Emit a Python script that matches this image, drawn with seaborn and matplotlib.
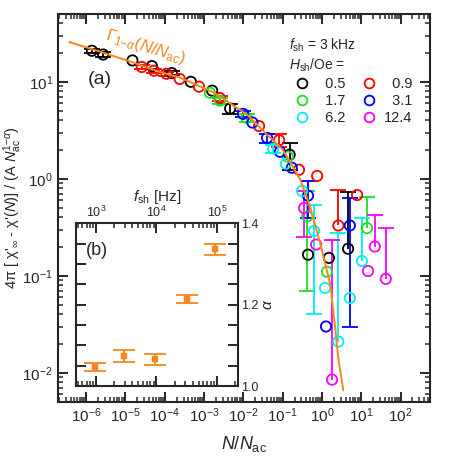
#!/usr/bin/env python3
# Scaling plot of the ac susceptibility vs N/N_ac, with alpha(f_sh) inset

import numpy as np
import pandas as pd
import matplotlib
matplotlib.use('Agg')
import matplotlib.pyplot as plt
import seaborn as sns
from matplotlib.lines import Line2D
from matplotlib.ticker import LogLocator, MultipleLocator, NullFormatter, FormatStrFormatter

# ---- main panel data ----
# H_sh = 0.5 Oe
n_05 = [1.4e-6, 2.7e-6, 1.5e-5, 4.7e-5, 1.5e-4, 4.6e-4, 1.6e-3, 4.6e-3, 0.15, 0.44, 1.5, 4.6]
c_05 = [20.9, 19.1, 16.6, 14.5, 12.3, 10.0, 8.1, 5.3, 1.77, 0.165, 0.153, 0.19]
e_05 = [1.0, 1.0, 0, 0, 0.6, 0, 0, 0.65, 0.55, 0, 0, 0.54]
# H_sh = 0.9 Oe
n_09 = [2.6e-5, 5.3e-5, 1.1e-4, 2.4e-4, 7.4e-4, 2.5e-3, 0.025, 0.081, 0.26, 0.75, 2.6, 7.8]
c_09 = [14.2, 13.0, 12.1, 10.7, 8.9, 6.8, 3.5, 2.5, 1.24, 1.07, 0.33, 0.68]
e_09 = [0.7, 0.6, 0.6, 0, 0, 0.4, 0, 0.37, 0, 0, 0.44, 0]
# H_sh = 1.7 Oe
n_17 = [1.4e-3, 2.5e-3, 0.012, 0.135, 0.42, 1.34, 14.0]
c_17 = [7.7, 6.4, 4.25, 1.69, 0.41, 0.11, 0.31]
e_17 = [0, 0.45, 0.4, 0, 0.34, 0, 0.34]
# H_sh = 3.1 Oe
n_31 = [9.8e-3, 0.017, 0.040, 0.085, 0.17, 0.44, 1.26, 5.1]
c_31 = [4.67, 3.8, 2.64, 1.90, 1.30, 0.67, 0.030, 0.33]
e_31 = [0.35, 0, 0.28, 0, 0, 0.28, 0, 0.30]
# H_sh = 6.2 Oe
n_62 = [0.057, 0.12, 0.31, 0.63, 1.19, 2.6, 5.1, 10.4]
c_62 = [2.04, 1.43, 0.75, 0.29, 0.075, 0.021, 0.059, 0.142]
e_62 = [0.2, 0, 0, 0.25, 0, 0.256, 0, 0.25]
# H_sh = 12.4 Oe
n_124 = [0.35, 0.71, 1.8, 14.8, 22.0, 42.0]
c_124 = [0.50, 0.21, 0.0085, 0.112, 0.20, 0.093]
e_124 = [0.25, 0, 0.226, 0, 0.225, 0.22]

h_labels = ['0.5', '0.9', '1.7', '3.1', '6.2', '12.4']
h_colors = ['black', '#ff0000', '#22dd22', '#0000ff', '#00f0f0', '#ff00ff']

# fitted curve Gamma_{1-alpha}(N/N_ac)
curve_n = [3.7e-7, 2.3e-6, 1.3e-5, 7.6e-5, 2.5e-4, 1.7e-3, 0.0126, 0.041,
           0.10, 0.28, 0.50, 0.89, 1.62, 2.19, 2.57, 3.47]
curve_c = [25.7, 20.4, 16.2, 12.6, 11.0, 7.8, 4.57, 2.82,
           2.0, 0.98, 0.51, 0.22, 0.081, 0.028, 0.0145, 0.0066]

# tick positions
x_ticks = [1e-6, 1e-5, 1e-4, 1e-3, 1e-2, 1e-1, 1e0, 1e1, 1e2]
y_ticks = [1e-2, 1e-1, 1e0, 1e1]

# ---- inset data ----
f_sh = [960, 2900, 9500, 31600, 95000]
alpha = [1.047, 1.074, 1.066, 1.213, 1.336]
alpha_err = [0.009, 0.014, 0.013, 0.010, 0.014]
f_ticks = [1e3, 1e4, 1e5]

ORANGE = '#f7871e'

sns.set_style('ticks')
plt.rcParams['font.family'] = ['Liberation Sans', 'DejaVu Sans']
plt.rcParams['mathtext.fontset'] = 'custom'
plt.rcParams['mathtext.rm'] = 'Liberation Sans'
plt.rcParams['mathtext.it'] = 'Liberation Sans:italic'
plt.rcParams['mathtext.bf'] = 'Liberation Sans:bold'


def draw_errorbars(ax, x, y, e, color):
    """vertical bars with caps; lower half dropped when it would go below zero"""
    x, y, e = np.asarray(x), np.asarray(y), np.asarray(e)
    m = e > 0
    lo = np.where(y - e > 0, e, 0)
    ax.errorbar(x[m], y[m], yerr=[lo[m], e[m]], fmt='none', ecolor=color,
                elinewidth=1.3, capsize=0, zorder=2)
    ax.plot(x[m], (y + e)[m], ls='none', marker='_', ms=11.5, mew=1.3,
            color=color, zorder=2)
    k = m & (lo > 0)
    ax.plot(x[k], (y - lo)[k], ls='none', marker='_', ms=11.5, mew=1.3,
            color=color, zorder=2)


fig = plt.figure(figsize=(4.63, 4.63), dpi=100)
ax = fig.add_axes([0.125, 0.132, 0.804, 0.838])
ax.set_xscale('log')
ax.set_yscale('log')

series = [(n_05, c_05, e_05), (n_09, c_09, e_09), (n_17, c_17, e_17),
          (n_31, c_31, e_31), (n_62, c_62, e_62), (n_124, c_124, e_124)]

rows = []
for lab, (n, c, e) in zip(h_labels, series):
    for xi, yi in zip(n, c):
        rows.append({'N': xi, 'chi': yi, 'H': lab})
df = pd.DataFrame(rows)

for (n, c, e), col in zip(series, h_colors):
    draw_errorbars(ax, n, c, e, col)

sns.scatterplot(data=df, x='N', y='chi', hue='H', hue_order=h_labels,
                palette=dict(zip(h_labels, h_colors)), marker='o', s=55,
                linewidth=1.3, legend=False, ax=ax, zorder=3)
pts = ax.collections[-1]
pts.set_edgecolors(pts.get_facecolors())
pts.set_facecolors('none')

sns.lineplot(x=curve_n, y=curve_c, sort=False, estimator=None, color=ORANGE,
             lw=1.4, ax=ax, zorder=5)

ax.set_xlim(10 ** -6.72, 10 ** 2.75)
ax.set_ylim(10 ** -2.30, 10 ** 1.70)
ax.set_xticks(x_ticks)
ax.set_yticks(y_ticks)
ax.xaxis.set_minor_locator(LogLocator(base=10, subs=np.arange(2, 10), numticks=20))
ax.xaxis.set_minor_formatter(NullFormatter())
ax.yaxis.set_minor_locator(LogLocator(base=10, subs=np.arange(2, 10), numticks=20))
ax.yaxis.set_minor_formatter(NullFormatter())
ax.tick_params(which='both', direction='in', top=True, right=True, labelsize=11)
ax.tick_params(which='major', length=7, width=1.4)
ax.tick_params(which='minor', length=3.5, width=1.1)
for sp in ax.spines.values():
    sp.set_linewidth(1.5)

ax.set_xlabel(r"$N$/$N_{\rm ac}$", fontsize=13, labelpad=6)
ax.set_ylabel(r"4π [ χ'$_{\infty}$ - χ'($N$)] / (A $N_{\rm ac}^{1\mathrm{-}\alpha}$)",
              fontsize=10.5)
ax.yaxis.set_label_coords(-0.092, 0.5)

ax.text(0.113, 0.83, '(a)', transform=ax.transAxes, fontsize=14,
        ha='center', va='center')
ax.text(0.235, 0.915, r"$\mathit{\Gamma}_{1\mathrm{-}\alpha}(N/N_{\rm ac})$",
        transform=ax.transAxes, fontsize=12, color=ORANGE, rotation=-17,
        ha='center', va='center')

# legend: columns filled top to bottom, labels padded with figure spaces
order = [0, 2, 4, 1, 3, 5]
handles = [Line2D([], [], ls='none', marker='o', mfc='none', mec=h_colors[i],
                  ms=7, mew=1.3) for i in order]
labels = [h_labels[i].rjust(4, '\u2007') for i in order]
leg = ax.legend(handles, labels, ncol=2, frameon=False, loc='upper left',
                bbox_to_anchor=(0.585, 0.975), fontsize=10.5,
                title=r"$f_{\rm sh}$ = 3 kHz" + "\n" + r"$H_{\rm sh}$/Oe =",
                title_fontsize=10, alignment='left', handletextpad=0.15,
                columnspacing=0.7, labelspacing=0.2, handlelength=1.8)

# ---- inset ----
axin = fig.add_axes([0.164, 0.166, 0.350, 0.352])
axin.set_xscale('log')
sns.scatterplot(x=f_sh, y=alpha, marker='s', color=ORANGE, edgecolor=ORANGE,
                s=18, ax=axin, zorder=3)
axin.errorbar(f_sh, alpha, yerr=alpha_err, fmt='none', ecolor=ORANGE,
              elinewidth=1.3, capsize=8, capthick=1.3)
axin.set_xlim(10 ** 2.67, 10 ** 5.35)
axin.set_ylim(1.0, 1.4)
axin.set_xticks(f_ticks)
axin.xaxis.set_minor_locator(LogLocator(base=10, subs=np.arange(2, 10), numticks=10))
axin.xaxis.set_minor_formatter(NullFormatter())
axin.yaxis.set_major_locator(MultipleLocator(0.2))
axin.yaxis.set_minor_locator(MultipleLocator(0.05))
axin.tick_params(which='both', direction='in', top=True, bottom=True,
                 left=True, right=True, labeltop=True, labelbottom=False,
                 labelleft=False, labelright=True, labelsize=9, pad=2)
axin.tick_params(which='major', length=7, width=1.4)
axin.tick_params(axis='x', which='minor', length=3.5, width=1.1)
axin.tick_params(axis='y', which='minor', length=7, width=1.4)
axin.yaxis.set_major_formatter(FormatStrFormatter('%.1f'))
for sp in axin.spines.values():
    sp.set_linewidth(1.5)
axin.xaxis.set_label_position('top')
axin.set_xlabel(r"$f_{\rm sh}$ [Hz]", fontsize=11, labelpad=3)
axin.yaxis.set_label_position('right')
axin.set_ylabel(r"$\alpha$", fontsize=11, labelpad=2)
axin.text(0.13, 0.834, '(b)', transform=axin.transAxes, fontsize=13,
          ha='center', va='center')

fig.savefig('out.png', dpi=100)
